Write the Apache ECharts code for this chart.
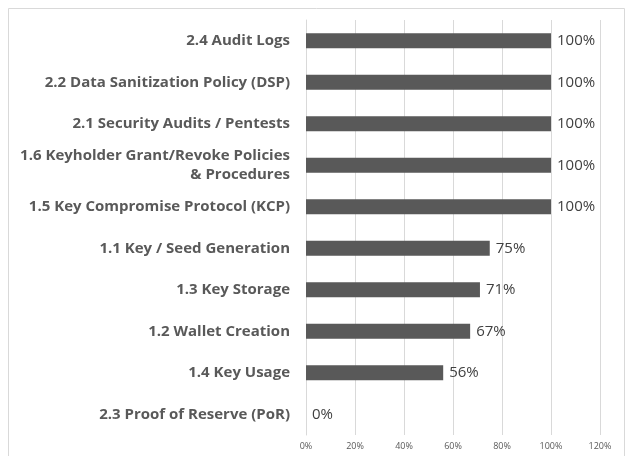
<!DOCTYPE html>
<html>
<head>
<meta charset="utf-8">
<script src="https://cdn.jsdelivr.net/npm/echarts@6/dist/echarts.min.js"></script>
<style>html,body{margin:0;padding:0;background:#fff;}#c{width:627px;height:456px;}</style>
</head>
<body>
<div id="c"></div>
<script>
var categories = [
  "2.4 Audit Logs",
  "2.2 Data Sanitization Policy (DSP)",
  "2.1 Security Audits / Pentests",
  "1.6 Keyholder Grant/Revoke Policies\n& Procedures",
  "1.5 Key Compromise Protocol (KCP)",
  "1.1 Key / Seed Generation",
  "1.3 Key Storage",
  "1.2 Wallet Creation",
  "1.4 Key Usage",
  "2.3 Proof of Reserve (PoR)"
];
var values = [100, 100, 100, 100, 100, 75, 71, 67, 56, 0];
var xTicks = [0, 20, 40, 60, 80, 100, 120];

var chart = echarts.init(document.getElementById('c'), null, {renderer: 'canvas'});
chart.setOption({
  animation: false,
  backgroundColor: '#ffffff',
  graphic: [{
    type: 'rect', silent: true,
    shape: {x: 8.5, y: 8.5, width: 616, height: 460},
    style: {fill: 'none', stroke: '#d9d9d9', lineWidth: 1}
  }],
  grid: {left: 306, right: 27, top: 20, bottom: 21, containLabel: false},
  xAxis: {
    type: 'value', min: xTicks[0], max: xTicks[xTicks.length - 1], interval: 20,
    axisLine: {show: false}, axisTick: {show: false},
    splitLine: {show: true, lineStyle: {color: '#d9d9d9', width: 1}},
    axisLabel: {formatter: '{value}%', color: '#595959', fontSize: 9, fontFamily: 'Open Sans', margin: 7}
  },
  yAxis: {
    type: 'category', data: categories, inverse: true,
    axisLine: {show: true, lineStyle: {color: '#d9d9d9', width: 1}},
    axisTick: {show: false},
    axisLabel: {color: '#595959', fontSize: 15, fontWeight: 'bold', fontFamily: 'Open Sans',
      margin: 16, align: 'right', lineHeight: 19}
  },
  series: [{
    type: 'bar', data: values, barWidth: 15,
    itemStyle: {color: '#595959'},
    label: {show: true, position: 'right', distance: 6, formatter: '{c}%',
      color: '#404040', fontSize: 15, fontFamily: 'Open Sans'}
  }]
});
</script>
</body>
</html>
